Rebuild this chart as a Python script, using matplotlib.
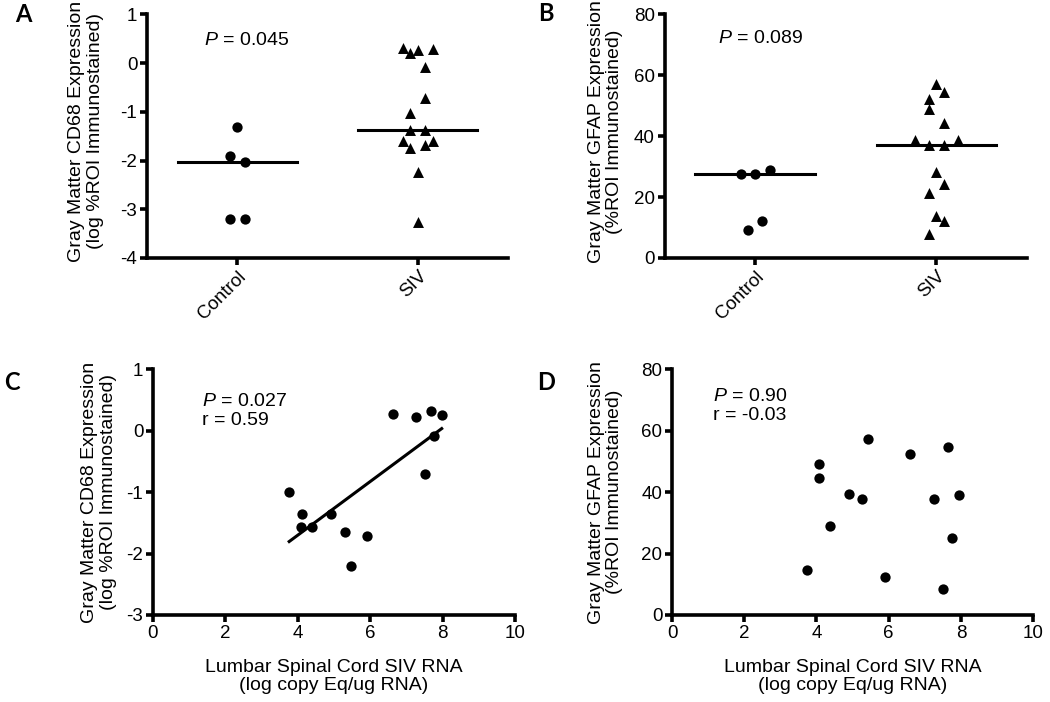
import numpy as np
import matplotlib
matplotlib.use("Agg")
import matplotlib.pyplot as plt

plt.rcParams['font.family'] = ['Liberation Sans', 'DejaVu Sans']
plt.rcParams['mathtext.fontset'] = 'custom'
plt.rcParams['mathtext.rm'] = 'Liberation Sans'
plt.rcParams['mathtext.it'] = 'Liberation Sans:italic'
plt.rcParams['axes.unicode_minus'] = False

# --- data ---
groups = ['Control', 'SIV']

# panel A: CD68 (log %ROI)
a_control = [-1.32, -1.91, -2.04, -3.20, -3.20]
a_control_slot = [0, -1, 1, -1, 1]
a_siv = [0.31, 0.21, 0.26, 0.28, -0.08, -0.72, -1.03, -1.37, -1.38,
         -1.59, -1.59, -1.74, -1.68, -2.24, -3.26]
a_siv_slot = [-2, -1, 0, 2, 1, 1, -1, -1, 1, -2, 2, -1, 1, 0, 0]

# panel B: GFAP (%ROI)
b_control = [27.7, 27.7, 28.8, 12.0, 9.1]
b_control_slot = [-2, 0, 2, 1, -1]
b_siv = [57.0, 54.4, 52.1, 48.9, 44.3, 38.8, 38.8, 37.2, 37.2,
         28.4, 24.4, 21.5, 13.9, 12.0, 8.0]
b_siv_slot = [0, 1, -1, -1, 1, -3, 3, -1, 1, 0, 1, -1, 0, 1, -1]

# panel C: SIV RNA vs CD68
c_rna = [3.76, 4.10, 4.08, 4.40, 4.91, 5.30, 5.92, 5.46, 6.62, 7.26, 7.67, 7.97, 7.77, 7.52]
c_cd68 = [-1.00, -1.36, -1.56, -1.57, -1.35, -1.65, -1.71, -2.20, 0.27, 0.22, 0.32, 0.26, -0.08, -0.71]

# panel D: SIV RNA vs GFAP
d_rna = [3.73, 4.07, 4.07, 4.38, 4.90, 5.25, 5.44, 5.90, 6.59, 7.25, 7.49, 7.63, 7.74, 7.95]
d_gfap = [14.7, 49.2, 44.5, 29.0, 39.4, 37.7, 57.2, 12.5, 52.4, 37.7, 8.5, 54.8, 24.9, 39.1]

cd68_label = 'Gray Matter CD68 Expression\n(log %ROI Immunostained)'
gfap_label = 'Gray Matter GFAP Expression\n(%ROI Immunostained)'
rna_label = 'Lumbar Spinal Cord SIV RNA\n(log copy Eq/ug RNA)'

LW = 2.6
TICK_FS = 13.5
LAB_FS = 14


def style(ax):
    for s in ['top', 'right']:
        ax.spines[s].set_visible(False)
    for s in ['left', 'bottom']:
        ax.spines[s].set_linewidth(LW)
    ax.tick_params(direction='out', length=5, width=LW, labelsize=TICK_FS, pad=2)


def column_plot(ax, ctrl, ctrl_slot, siv, siv_slot, step, ylim, yticks, ylabel, ptext):
    ax.scatter(0 + np.array(ctrl_slot) * step, ctrl, marker='o', s=55, color='black',
               zorder=3, linewidths=0)
    ax.scatter(1 + np.array(siv_slot) * step, siv, marker='^', s=62, color='black',
               zorder=3, linewidths=0)
    for pos, vals in zip([0, 1], [ctrl, siv]):
        m = np.median(vals)
        ax.plot([pos - 0.33, pos + 0.33], [m, m], color='black', lw=2.2, zorder=2)
    ax.set_xlim(-0.5, 1.5)
    ax.set_ylim(*ylim)
    ax.set_yticks(yticks)
    ax.set_xticks([0, 1])
    ax.set_xticklabels(groups, rotation=45, ha='right', rotation_mode='anchor',
                       fontsize=LAB_FS)
    style(ax)
    ax.set_ylabel(ylabel, fontsize=LAB_FS, linespacing=1.1)
    ax.text(ptext[0], ptext[1], ptext[2], transform=ax.transAxes, fontsize=LAB_FS,
            va='center', ha='left')


def scatter_plot(ax, x, y, ylim, yticks, ylabel, ptext, fit=False):
    ax.scatter(x, y, marker='o', s=55, color='black', zorder=3, linewidths=0)
    if fit:
        k, b = np.polyfit(x, y, 1)
        xs = np.array([min(x), max(x)])
        ax.plot(xs, k * xs + b, color='black', lw=2.2, zorder=2)
    ax.set_xlim(0, 10)
    ax.set_xticks(range(0, 11, 2))
    ax.set_ylim(*ylim)
    ax.set_yticks(yticks)
    style(ax)
    ax.set_ylabel(ylabel, fontsize=LAB_FS, linespacing=1.1)
    ax.set_xlabel(rna_label, fontsize=LAB_FS, linespacing=1.1)
    ax.text(ptext[0], ptext[1], ptext[2], transform=ax.transAxes, fontsize=LAB_FS,
            va='top', ha='left', linespacing=1.15)


fig = plt.figure(figsize=(10.5, 7.02), dpi=100)

axA = fig.add_axes([0.140, 0.6325, 0.344, 0.347])
column_plot(axA, a_control, a_control_slot, a_siv, a_siv_slot, 0.042, (-4, 1),
            range(-4, 2), cd68_label, (0.158, 0.893, r'$\it{P}$ = 0.045'))
axA.yaxis.set_label_coords(-0.12, 0.52)

axB = fig.add_axes([0.633, 0.6325, 0.345, 0.347])
column_plot(axB, b_control, b_control_slot, b_siv, b_siv_slot, 0.040, (0, 80),
            range(0, 81, 20), gfap_label, (0.146, 0.90, r'$\it{P}$ = 0.089'))
axB.yaxis.set_label_coords(-0.115, 0.52)

axC = fig.add_axes([0.1457, 0.124, 0.345, 0.350])
scatter_plot(axC, c_rna, c_cd68, (-3, 1), range(-3, 2), cd68_label,
             (0.135, 0.905, '$\\it{P}$ = 0.027\nr = 0.59'), fit=True)
axC.yaxis.set_label_coords(-0.10, 0.5)
axC.xaxis.set_label_coords(0.5, -0.18)

axD = fig.add_axes([0.640, 0.124, 0.344, 0.350])
scatter_plot(axD, d_rna, d_gfap, (0, 80), range(0, 81, 20), gfap_label,
             (0.114, 0.925, '$\\it{P}$ = 0.90\nr = -0.03'))
axD.yaxis.set_label_coords(-0.135, 0.5)
axD.xaxis.set_label_coords(0.5, -0.18)

for lbl, x, y in [('A', 15, 3), ('B', 538, 2), ('C', 4, 371), ('D', 537, 371)]:
    fig.text(x / 1050, 1 - y / 702, lbl, fontsize=17, fontweight='bold',
             family=['Lato', 'DejaVu Sans'], va='top', ha='left')

fig.savefig('out.png', dpi=100)
